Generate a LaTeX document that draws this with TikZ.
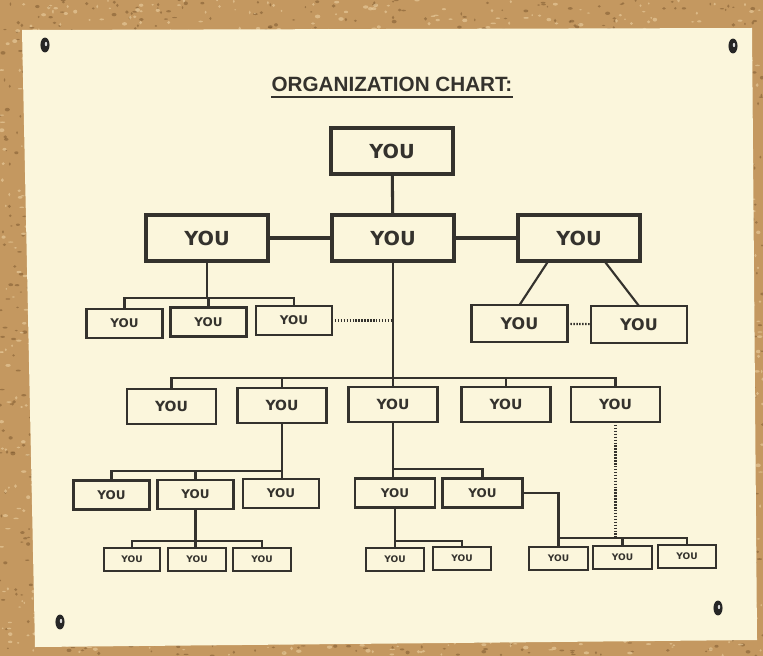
\documentclass[tikz,border=0pt]{standalone}
\usepackage{fontspec}
\setmainfont{Liberation Sans}
\newfontfamily\youfont{DejaVu Sans}

\definecolor{cork}{RGB}{196,152,96}
\definecolor{corkLight}{RGB}{232,204,156}
\definecolor{corkDark}{RGB}{120,84,44}
\definecolor{paper}{RGB}{251,246,220}
\definecolor{ink}{RGB}{52,50,45}

\begin{document}
\begin{tikzpicture}[
  x=0.75pt, y=-0.75pt,
  box/.style={draw=ink, fill=paper, text=ink, inner sep=0pt, outer sep=0pt},
  bigbox/.style={box, line width=2.4pt, minimum width=91.5pt, minimum height=34.5pt,
    font=\youfont\bfseries\fontsize{14.5}{14.5}\selectfont},
  aidebox/.style={box, line width=2pt, minimum width=72pt, minimum height=27.75pt,
    font=\youfont\bfseries\fontsize{12}{12}\selectfont},
  managerbox/.style={box, line width=1.9pt, minimum width=66.75pt, minimum height=26.25pt,
    font=\youfont\bfseries\fontsize{10.5}{10.5}\selectfont},
  staffbox/.style={box, line width=1.8pt, minimum width=57pt, minimum height=22pt,
    font=\youfont\bfseries\fontsize{9}{9}\selectfont},
  clerkbox/.style={box, line width=1.5pt, minimum width=44pt, minimum height=17.25pt,
    font=\youfont\bfseries\fontsize{6.8}{6.8}\selectfont},
  link/.style={draw=ink, line width=1.6pt},
  heavy/.style={draw=ink, line width=2.3pt},
  dots/.style={draw=ink, line width=1.6pt, dash pattern=on 1.1pt off 1.1pt}]

\useasboundingbox (0,0) rectangle (763,656);

% Cork board and the sheet pinned on it
\fill[cork] (0,0) rectangle (763,656);
\pgfmathsetseed{42}
\foreach \i in {1,...,2200}
  \fill[corkDark, opacity=0.5] ({rnd*763},{rnd*656}) ellipse ({0.8+rnd*1.8} and {0.6+rnd*1.3});
\foreach \i in {1,...,2200}
  \fill[corkLight, opacity=0.65] ({rnd*763},{rnd*656}) ellipse ({0.8+rnd*2} and {0.6+rnd*1.4});
\fill[paper] (22,30) -- (752,28) -- (757,640) -- (35,647) -- cycle;
\foreach \px/\py in {45/45, 733/46, 60/622, 718/608} {
  \fill[black!85] (\px,\py) ellipse (3.4pt and 5.6pt);
  \fill[white!70!gray] (\px+1,\py-1) ellipse (0.9pt and 1.6pt);
}

% Title
\node[anchor=base, inner sep=0pt, text=ink, font=\bfseries\fontsize{15.5}{15.5}\selectfont]
  (title) at (392,92) {ORGANIZATION CHART:};
\draw[ink, line width=1.6pt] ([yshift=-4pt]title.base west) -- ([yshift=-4pt]title.base east);

% Position the boxes
\node[bigbox] (topBoss) at (392,151) {YOU};
\node[bigbox] (centerBoss) at (393,238) {YOU};
\node[bigbox] (leftBoss) at (207,238) {YOU};
\node[bigbox] (rightBoss) at (579,238) {YOU};

\node[staffbox] (leftAide1) at (124.5,323.5) {YOU};
\node[staffbox] (leftAide2) at (208.5,322) {YOU};
\node[staffbox] (leftAide3) at (294,320.5) {YOU};
\node[aidebox] (rightAide1) at (519.5,323.5) {YOU};
\node[aidebox] (rightAide2) at (639,324.5) {YOU};

\node[managerbox] (manager1) at (171.5,406.5) {YOU};
\node[managerbox] (manager2) at (282,405.5) {YOU};
\node[managerbox] (manager3) at (393,404.5) {YOU};
\node[managerbox] (manager4) at (506,404.5) {YOU};
\node[managerbox] (manager5) at (615.5,404.5) {YOU};

\node[staffbox] (leftStaff1) at (111.5,495) {YOU};
\node[staffbox] (leftStaff2) at (195.5,494.5) {YOU};
\node[staffbox] (leftStaff3) at (281,493.5) {YOU};
\node[staffbox, minimum width=60pt] (midStaff1) at (395,493) {YOU};
\node[staffbox, minimum width=60pt] (midStaff2) at (482.5,493) {YOU};

\node[clerkbox, minimum width=42pt] (leftClerk1) at (132,559) {YOU};
\node[clerkbox] (leftClerk2) at (197,559) {YOU};
\node[clerkbox] (leftClerk3) at (262,559) {YOU};
\node[clerkbox] (midClerk1) at (395,559.5) {YOU};
\node[clerkbox] (midClerk2) at (462,558.5) {YOU};
\node[clerkbox] (rightClerk1) at (558.5,558) {YOU};
\node[clerkbox] (rightClerk2) at (622.5,557) {YOU};
\node[clerkbox] (rightClerk3) at (687,556) {YOU};

% Bus lines of each group
\coordinate (busAides) at (0,298);
\coordinate (busManagers) at (0,378);
\coordinate (busLeftStaff) at (0,471);
\coordinate (busMidStaff) at (0,469);
\coordinate (busLeftClerks) at (0,541);
\coordinate (busMidClerks) at (0,541);
\coordinate (busRightClerks) at (0,538);

% Draw the lines between the boxes
\draw[heavy] (topBoss) -- (centerBoss);
\draw[heavy] (leftBoss) -- (centerBoss) -- (rightBoss);

\draw[link] (leftBoss) -- (leftBoss |- busAides);
\draw[link] (leftAide1.north) |- (leftAide3.north |- busAides) -- (leftAide3.north);
\draw[link] (leftAide2.north) -- (leftAide2.north |- busAides);
\draw[dots] (leftAide3.east) -- (leftAide3.east -| centerBoss);

\draw[link] ([xshift=-23pt]rightBoss.south) -- (rightAide1.north);
\draw[link] ([xshift=19pt]rightBoss.south) -- (rightAide2.north);
\draw[dots] (rightAide1) -- (rightAide2);

\draw[link] (centerBoss) -- (centerBoss |- manager3.north);
\draw[link] (manager1.north) |- (manager5.north |- busManagers) -- (manager5.north);
\foreach \n in {manager2,manager4}
  \draw[link] (\n.north) -- (\n.north |- busManagers);

\draw[link] (manager2) -- (manager2 |- leftStaff3.north);
\draw[link] (leftStaff1.north) |- (manager2 |- busLeftStaff);
\draw[link] (leftStaff2.north) -- (leftStaff2.north |- busLeftStaff);
\draw[link] (leftStaff2) -- (leftStaff2 |- leftClerk2.north);
\draw[link] (leftClerk1.north) |- (leftClerk3.north |- busLeftClerks) -- (leftClerk3.north);

\draw[link] (manager3) -- (manager3 |- midStaff1.north);
\draw[link] (manager3 |- busMidStaff) -| (midStaff2.north);
\draw[link] (midStaff1) -- (midStaff1 |- midClerk1.north);
\draw[link] (midClerk1.north |- busMidClerks) -| (midClerk2.north);

\draw[link] (midStaff2.east) -| (rightClerk1.north);
\draw[link] (rightClerk1.north |- busRightClerks) -| (rightClerk3.north);
\draw[link] (rightClerk2.north) -- (rightClerk2.north |- busRightClerks);
\draw[dots] (manager5.south) -- (manager5.south |- busRightClerks);
\end{tikzpicture}
\end{document}
